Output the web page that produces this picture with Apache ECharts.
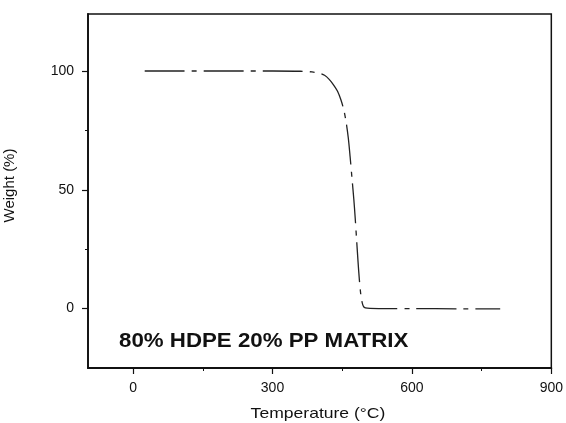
<!DOCTYPE html>
<html><head><meta charset="utf-8">
<script src="https://cdn.jsdelivr.net/npm/echarts@6/dist/echarts.min.js"></script>
<style>html,body{margin:0;padding:0;background:#fff}#c{width:566px;height:423px}</style>
</head><body><div id="c"></div>
<script>
const temperature = [25, 100, 200, 300, 360, 385, 400, 412, 422, 432, 440, 447, 453, 458, 463, 467, 471, 475, 478, 481, 484, 487, 490, 493, 496, 500, 510, 550, 600, 700, 790];
const weight =      [100, 100, 100, 100, 99.9, 99.6, 99.1, 98.2, 96.5, 94, 91.5, 88, 84, 79, 72, 64, 55, 46, 38, 29, 20, 12, 6, 2.5, 0.8, 0.3, 0.1, 0, 0, -0.1, -0.1];
const xTicks = [0, 300, 600, 900];
const xMinor = [150, 450, 750];
const yTicks = [0, 50, 100];
const yMinor = [25, 75];
const annotation = '80% HDPE 20% PP MATRIX';
const xTitle = 'Temperature (°C)';
const yTitle = 'Weight (%)';

const chart = echarts.init(document.getElementById('c'), null, {renderer: 'canvas'});
const font = 'Liberation Sans, Arial, sans-serif';
const axisCommon = {
  type: 'value', splitLine: {show: false},
  axisLine: {show: true, onZero: false, lineStyle: {color: '#111', width: 1.8}}
};
chart.setOption({
  animation: false,
  grid: {left: 88, top: 14, right: 13, bottom: 55, show: true, borderColor: '#111', borderWidth: 1.5, backgroundColor: 'transparent'},
  xAxis: [
    Object.assign({}, axisCommon, {
      min: -97, max: 900, position: 'bottom',
      axisTick: {show: true, inside: false, length: 6, lineStyle: {color: '#111', width: 1.2}, customValues: xTicks},
      axisLabel: {show: true, margin: 13, fontSize: 14, color: '#111', fontFamily: font, customValues: xTicks}
    }),
    Object.assign({}, axisCommon, {
      min: -97, max: 900, position: 'bottom', axisLine: {show: false, onZero: false},
      axisTick: {show: true, length: 3, lineStyle: {color: '#111', width: 1}, customValues: xMinor},
      axisLabel: {show: false}
    })
  ],
  yAxis: [
    Object.assign({}, axisCommon, {
      min: -25, max: 124, position: 'left',
      axisTick: {show: true, length: 6, lineStyle: {color: '#111', width: 1.2}, customValues: yTicks},
      axisLabel: {show: true, margin: 14, fontSize: 14, color: '#111', fontFamily: font, customValues: yTicks}
    }),
    Object.assign({}, axisCommon, {
      min: -25, max: 124, position: 'left', axisLine: {show: false, onZero: false},
      axisTick: {show: true, length: 3, lineStyle: {color: '#111', width: 1}, customValues: yMinor},
      axisLabel: {show: false}
    })
  ],
  series: [{
    type: 'line', xAxisIndex: 0, yAxisIndex: 0,
    data: temperature.map((t, i) => [t, weight[i]]),
    showSymbol: false, smooth: 0.3,
    lineStyle: {color: '#222', width: 1.3, type: [40, 7, 5, 7]}
  }],
  graphic: [
    {type: 'text', x: 119, y: 341.7, scaleX: 1.087, style: {text: annotation, font: 'bold 20.5px ' + font, fill: '#111', textAlign: 'left', textVerticalAlign: 'middle'}},
    {type: 'text', x: 318, y: 413.5, scaleX: 1.17, style: {text: xTitle, font: '15px ' + font, fill: '#111', textAlign: 'center', textVerticalAlign: 'middle'}},
    {type: 'text', x: 9.5, y: 185.5, rotation: Math.PI / 2, style: {text: yTitle, font: '15px ' + font, fill: '#111', textAlign: 'center', textVerticalAlign: 'middle'}}
  ]
});
</script></body></html>
